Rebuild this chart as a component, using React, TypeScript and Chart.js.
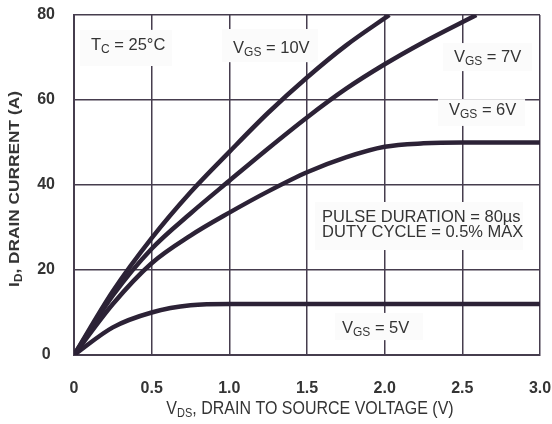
import { useEffect, useRef } from 'react';
import { Chart, registerables } from 'chart.js';

Chart.register(...registerables);

// Output characteristics: drain current vs drain-source voltage
const vds10V = [0, 0.25, 0.5, 0.75, 1.0, 1.25, 1.5, 1.75, 2.03];
const id10V = [0, 15, 27.5, 38.3, 47.8, 57, 65.3, 72.8, 80];

const vds7V = [0, 0.25, 0.5, 0.75, 1.0, 1.25, 1.5, 1.75, 2.0, 2.25, 2.59];
const id7V = [0, 14, 25, 33.3, 41, 48.6, 55.9, 62.6, 68.4, 73.6, 80];

const vds6V = [0, 0.25, 0.5, 0.75, 1.0, 1.25, 1.5, 1.75, 2.0, 2.25, 2.5, 2.75, 3.0];
const id6V = [0, 12, 21.6, 28.1, 33.5, 38.5, 43, 46.5, 49, 49.8, 50, 50, 50];

const vds5V = [0, 0.25, 0.5, 0.75, 1.0, 1.25, 1.5, 2.0, 2.5, 3.0];
const id5V = [0, 6.5, 10, 11.7, 12, 12, 12, 12, 12, 12];

const xTickValues = [0, 0.5, 1.0, 1.5, 2.0, 2.5, 3.0];
const xTickLabels = ['0', '0.5', '1.0', '1.5', '2.0', '2.5', '3.0'];
const yTickValues = [0, 20, 40, 60, 80];
const yTickLabels = ['0', '20', '40', '60', '80'];

const FONT = "'Liberation Sans', Arial, Helvetica, sans-serif";
const INK = '#2c2236';
const GRID = '#463d4e';
const TEXT = '#343434';

type Part = { t: string; sub?: boolean };

// Labels placed in data units (V, A); each has a backing box
const notes: {
  box: [number, number, number, number];
  lines: { at: [number, number]; parts: Part[] }[];
}[] = [
  {
    box: [0.039, 76.5, 0.631, 68.0],
    lines: [{ at: [0.109, 71.8], parts: [{ t: 'T' }, { t: 'C', sub: true }, { t: ' = 25°C' }] }],
  },
  {
    box: [0.953, 76.7, 1.571, 68.9],
    lines: [{ at: [1.024, 71.1], parts: [{ t: 'V' }, { t: 'GS', sub: true }, { t: ' = 10V' }] }],
  },
  {
    box: [2.376, 73.4, 2.949, 66.8],
    lines: [{ at: [2.446, 68.9], parts: [{ t: 'V' }, { t: 'GS', sub: true }, { t: ' = 7V' }] }],
  },
  {
    box: [2.343, 60.2, 2.904, 53.9],
    lines: [{ at: [2.414, 56.5], parts: [{ t: 'V' }, { t: 'GS', sub: true }, { t: ' = 6V' }] }],
  },
  {
    box: [1.68, 9.9, 2.247, 3.5],
    lines: [{ at: [1.725, 5.2], parts: [{ t: 'V' }, { t: 'GS', sub: true }, { t: ' = 5V' }] }],
  },
  {
    box: [1.552, 36, 2.891, 24.7],
    lines: [
      { at: [1.597, 31.3], parts: [{ t: 'PULSE DURATION = 80µs' }] },
      { at: [1.597, 27.8], parts: [{ t: 'DUTY CYCLE = 0.5% MAX' }] },
    ],
  },
];

function partFont(p: Part, size: number, weight: string) {
  return `${weight} ${p.sub ? Math.round(size * 0.7) : size}px ${FONT}`;
}

function richWidth(ctx: CanvasRenderingContext2D, parts: Part[], size: number, weight: string) {
  let w = 0;
  for (const p of parts) {
    ctx.font = partFont(p, size, weight);
    w += ctx.measureText(p.t).width;
  }
  return w;
}

function drawRich(
  ctx: CanvasRenderingContext2D,
  parts: Part[],
  x: number,
  y: number,
  size: number,
  weight = 'normal',
  align: 'left' | 'center' = 'left'
) {
  let cx = align === 'center' ? x - richWidth(ctx, parts, size, weight) / 2 : x;
  ctx.textAlign = 'left';
  ctx.textBaseline = 'alphabetic';
  for (const p of parts) {
    ctx.font = partFont(p, size, weight);
    ctx.fillText(p.t, cx, p.sub ? y + 3 : y);
    cx += ctx.measureText(p.t).width;
  }
}

const notesPlugin = {
  id: 'notes',
  beforeDatasetsDraw(chart: Chart) {
    const { ctx } = chart;
    const xs = chart.scales.x;
    const ys = chart.scales.y;
    ctx.save();
    for (const n of notes) {
      const x0 = xs.getPixelForValue(n.box[0]);
      const y0 = ys.getPixelForValue(n.box[1]);
      const x1 = xs.getPixelForValue(n.box[2]);
      const y1 = ys.getPixelForValue(n.box[3]);
      ctx.fillStyle = '#fbfbfb';
      ctx.fillRect(x0, y0, x1 - x0, y1 - y0);
    }
    ctx.fillStyle = TEXT;
    for (const n of notes) {
      for (const l of n.lines) {
        drawRich(ctx, l.parts, xs.getPixelForValue(l.at[0]), ys.getPixelForValue(l.at[1]), 16.5);
      }
    }
    ctx.restore();
  },
  afterDraw(chart: Chart) {
    const { ctx, chartArea } = chart;
    ctx.save();
    ctx.fillStyle = TEXT;
    // X axis title, slightly tall lettering
    ctx.save();
    ctx.translate((chartArea.left + chartArea.right) / 2 + 3, 414);
    ctx.scale(1, 1.12);
    drawRich(
      ctx,
      [{ t: 'V' }, { t: 'DS', sub: true }, { t: ', DRAIN TO SOURCE VOLTAGE (V)' }],
      0,
      0,
      16,
      'normal',
      'center'
    );
    ctx.restore();
    // Y axis title, rotated
    ctx.translate(19, 189);
    ctx.rotate(-Math.PI / 2);
    ctx.scale(1.08, 0.95);
    drawRich(
      ctx,
      [{ t: 'I' }, { t: 'D', sub: true }, { t: ', DRAIN CURRENT (A)' }],
      0,
      0,
      16,
      'bold',
      'center'
    );
    ctx.restore();
  },
};

function series(label: string, xs: number[], ys: number[]) {
  return {
    label,
    data: xs.map((x, i) => ({ x, y: ys[i] })),
    borderColor: INK,
    borderWidth: 4.5,
    pointRadius: 0,
    cubicInterpolationMode: 'monotone' as const,
    fill: false,
  };
}

export default function App() {
  const ref = useRef<HTMLCanvasElement>(null);

  useEffect(() => {
    if (!ref.current) return;
    const chart = new Chart(ref.current, {
      type: 'line',
      data: {
        datasets: [
          series('VGS = 10V', vds10V, id10V),
          series('VGS = 7V', vds7V, id7V),
          series('VGS = 6V', vds6V, id6V),
          series('VGS = 5V', vds5V, id5V),
        ],
      },
      options: {
        responsive: false,
        animation: false,
        layout: { padding: { left: 0, right: 12, top: 15, bottom: 0 } },
        plugins: { legend: { display: false }, tooltip: { enabled: false } },
        scales: {
          x: {
            type: 'linear',
            min: 0,
            max: 3,
            afterBuildTicks: (s: any) => {
              s.ticks = xTickValues.map((value) => ({ value }));
            },
            afterFit: (s: any) => {
              s.height = 69;
              s.paddingLeft = 8;
              s.paddingRight = 8;
            },
            ticks: {
              callback: (v: any) => xTickLabels[xTickValues.indexOf(Number(v))] ?? '',
              color: TEXT,
              font: { family: FONT, size: 16, weight: 'bold' },
              padding: 24,
              maxRotation: 0,
              autoSkip: false,
            },
            grid: { color: GRID, lineWidth: 1.5, drawTicks: false },
            border: { color: GRID, width: 2 },
          },
          y: {
            type: 'linear',
            min: 0,
            max: 80,
            afterBuildTicks: (s: any) => {
              s.ticks = yTickValues.map((value) => ({ value }));
            },
            afterFit: (s: any) => {
              s.width = 74;
              s.paddingTop = 8;
              s.paddingBottom = 8;
            },
            ticks: {
              callback: (v: any) => yTickLabels[yTickValues.indexOf(Number(v))] ?? '',
              color: TEXT,
              font: { family: FONT, size: 16, weight: 'bold' },
              padding: 19,
              crossAlign: 'center',
              autoSkip: false,
            },
            grid: { color: GRID, lineWidth: 1.5, drawTicks: false },
            border: { color: GRID, width: 2 },
          },
        },
      },
      plugins: [notesPlugin],
    });
    return () => chart.destroy();
  }, []);

  return (
    <div style={{ position: 'fixed', left: 0, top: 0, width: 552, height: 424, background: '#fff' }}>
      <canvas ref={ref} width={552} height={424} style={{ display: 'block' }} />
    </div>
  );
}
